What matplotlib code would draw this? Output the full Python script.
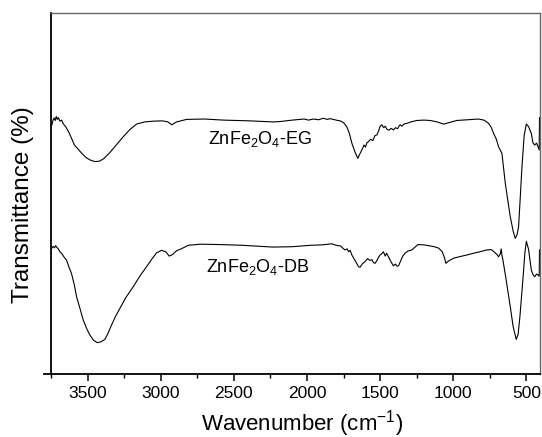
import matplotlib
matplotlib.use("Agg")
import matplotlib.pyplot as plt
from matplotlib.ticker import MultipleLocator

plt.rcParams["font.family"] = ["Liberation Sans", "DejaVu Sans"]
plt.rcParams["mathtext.fontset"] = "custom"
plt.rcParams["mathtext.rm"] = "Liberation Sans"
plt.rcParams["mathtext.it"] = "Liberation Sans:italic"
plt.rcParams["mathtext.bf"] = "Liberation Sans:bold"

# ZnFe2O4-EG spectrum (wavenumber cm-1, transmittance a.u.)
wn_eg = [3744, 3735, 3728, 3721, 3714, 3707, 3700, 3689, 3677, 3665, 3650, 3630,
         3610, 3590, 3570, 3540, 3510, 3480, 3450, 3420, 3390, 3350, 3300, 3256,
         3210, 3165, 3110, 3051, 2990, 2950, 2925, 2891, 2822, 2700, 2572, 2400,
         2230, 2184, 2100, 2020, 1990, 1956, 1920, 1890, 1860, 1842, 1810, 1790,
         1773, 1750, 1728, 1710, 1693, 1672, 1652, 1640, 1625, 1610, 1600, 1590,
         1580, 1565, 1550, 1535, 1522, 1510, 1500, 1488, 1475, 1465, 1454, 1440,
         1425, 1408, 1395, 1380, 1370, 1363, 1350, 1340, 1330, 1317, 1290, 1249,
         1200, 1158, 1110, 1066, 1020, 975, 900, 827, 790, 758, 740, 724, 705,
         690, 667, 644, 610, 590, 576, 563, 553, 540, 530, 515, 500, 485, 466,
         455, 443, 430, 420, 412, 410]
tr_eg = [69.0, 70.4, 70.9, 70.2, 71.3, 70.5, 71.0, 70.0, 70.3, 69.2, 68.5, 67.1,
         65.3, 63.4, 62.5, 61.1, 59.9, 59.2, 58.8, 58.9, 59.6, 61.2, 63.6, 65.7,
         67.7, 69.2, 69.8, 70.0, 70.1, 69.8, 69.0, 69.8, 70.5, 70.6, 70.3, 70.1,
         69.8, 69.9, 70.3, 70.6, 70.3, 70.6, 70.4, 70.8, 70.5, 70.7, 70.4, 70.2,
         70.1, 69.6, 68.5, 66.6, 63.9, 61.5, 59.7, 60.8, 62.0, 63.4, 62.8, 64.0,
         64.3, 65.0, 64.6, 66.0, 66.2, 67.3, 68.6, 69.0, 68.2, 68.6, 67.8, 67.5,
         68.0, 67.6, 68.2, 67.9, 68.7, 69.0, 68.6, 69.1, 69.3, 69.4, 69.8, 70.2,
         70.3, 70.2, 69.8, 69.2, 69.7, 70.2, 70.4, 70.6, 70.3, 69.4, 68.3, 66.6,
         65.0, 62.9, 61.1, 52.8, 43.5, 39.5, 37.5, 38.6, 40.8, 50.0, 57.4, 66.0,
         69.2, 68.5, 66.6, 64.0, 63.4, 63.9, 62.9, 62.0, 71.0]

# ZnFe2O4-DB spectrum
wn_db = [3744, 3735, 3726, 3718, 3710, 3700, 3689, 3675, 3660, 3644, 3625, 3610,
         3590, 3575, 3550, 3530, 3505, 3484, 3460, 3434, 3410, 3382, 3360, 3336,
         3310, 3279, 3240, 3188, 3140, 3096, 3060, 3028, 2994, 2965, 2942, 2920,
         2891, 2860, 2811, 2729, 2600, 2445, 2233, 2100, 1973, 1900, 1831, 1800,
         1770, 1755, 1739, 1725, 1715, 1705, 1693, 1670, 1648, 1637, 1620, 1602,
         1585, 1570, 1556, 1545, 1534, 1520, 1510, 1500, 1490, 1477, 1465, 1455,
         1443, 1425, 1409, 1395, 1385, 1374, 1360, 1345, 1329, 1310, 1283, 1241,
         1200, 1170, 1130, 1099, 1075, 1060, 1050, 1030, 998, 950, 907, 860, 817,
         771, 740, 724, 700, 690, 678, 672, 667, 660, 640, 610, 590, 569, 556, 544,
         522, 510, 500, 485, 466, 455, 443, 430, 420, 412, 410]
tr_db = [34.8, 35.3, 34.9, 35.5, 35.0, 34.6, 33.8, 33.2, 32.3, 31.5, 29.3, 27.8,
         24.5, 21.3, 17.8, 14.9, 12.4, 10.7, 9.3, 8.6, 8.8, 9.5, 11.2, 13.5,
         15.8, 18.1, 21.0, 24.1, 27.2, 29.7, 31.8, 33.5, 34.2, 33.8, 32.6, 33.0,
         34.1, 34.6, 35.6, 35.9, 35.8, 35.6, 35.1, 35.2, 35.6, 35.7, 36.0, 35.6,
         35.4, 34.8, 34.3, 34.6, 33.8, 34.2, 32.9, 31.3, 29.7, 29.5, 30.5, 31.1,
         31.9, 31.4, 31.6, 30.8, 30.6, 31.5, 32.3, 32.9, 33.2, 33.8, 32.6, 33.4,
         32.4, 31.0, 29.9, 30.4, 29.8, 29.9, 31.2, 32.6, 33.4, 34.0, 34.3, 35.8,
         35.7, 35.5, 35.2, 34.8, 33.8, 32.2, 30.6, 31.3, 32.0, 32.5, 32.9, 33.4,
         33.8, 34.3, 34.4, 33.9, 33.0, 32.4, 33.2, 34.6, 32.9, 31.5, 26.5, 18.6,
         13.0, 9.5, 11.0, 15.8, 26.9, 33.5, 36.7, 34.5, 28.7, 27.5, 26.9, 27.6,
         27.4, 27.0, 34.3]

labels = ["ZnFe$_2$O$_4$-EG", "ZnFe$_2$O$_4$-DB"]
label_pos = [(2324, 63.6), (2339, 28.3)]

fig = plt.figure(figsize=(5.42, 4.37), dpi=100)
ax = fig.add_axes([0.0941, 0.1449, 0.9013, 0.8254])

ax.plot(wn_eg, tr_eg, color="black", lw=0.8)
ax.plot(wn_db, tr_db, color="black", lw=0.8)

for txt, (x, y) in zip(labels, label_pos):
    ax.text(x, y, txt, fontsize=13, ha="center", va="baseline")

ax.set_xlim(3750, 410)
ax.set_ylim(0, 100)

ax.xaxis.set_major_locator(MultipleLocator(500))
ax.xaxis.set_minor_locator(MultipleLocator(250))
ax.tick_params(axis="x", which="major", direction="out", length=5, width=1.1,
               labelsize=12.5, pad=4)
ax.tick_params(axis="x", which="minor", direction="out", length=3, width=1.0)
ax.set_yticks([])

for side in ["left", "bottom"]:
    ax.spines[side].set_linewidth(1.3)
for side in ["top", "right"]:
    ax.spines[side].set_linewidth(1.0)
    ax.spines[side].set_color("0.4")

# Origin-style axis stub to the left of the frame
ax.plot([-0.015, 0], [0, 0], transform=ax.transAxes, color="black", lw=1.3,
        clip_on=False)

ax.set_xlabel("Wavenumber (cm$^{-1}$)", fontsize=16)
ax.xaxis.label.set_va("center")
ax.xaxis.set_label_coords(0.513, -0.137)
ax.set_ylabel("Transmittance (%)", fontsize=17.5)
ax.yaxis.label.set_va("center")
ax.yaxis.set_label_coords(-0.057, 0.47)

fig.savefig("out.png", dpi=100)
plt.close(fig)
